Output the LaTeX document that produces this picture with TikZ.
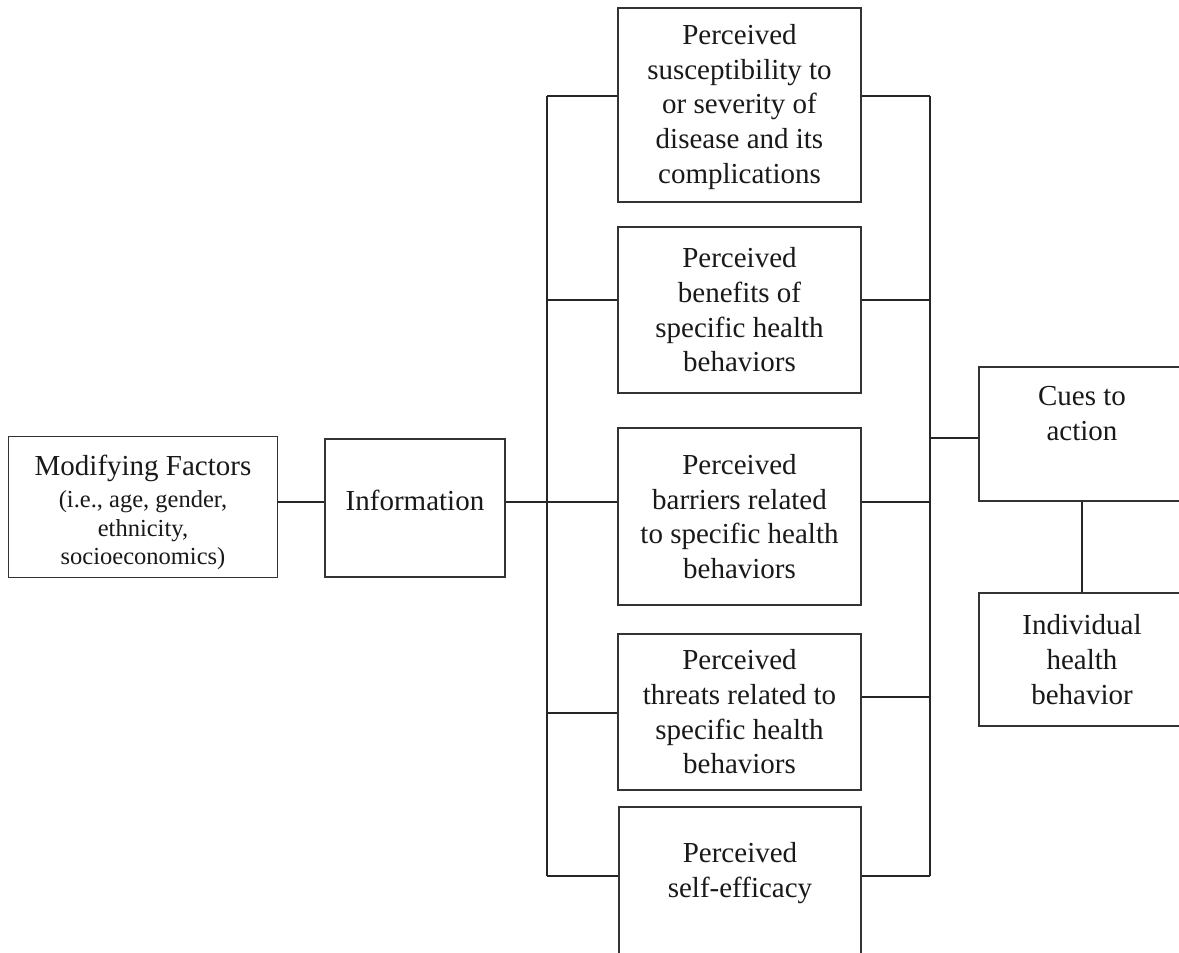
\documentclass[tikz,border=0pt]{standalone}
\usepackage{fontspec}
\setmainfont{Liberation Serif}
\newcommand{\smallfs}{\fontsize{24.5}{27.5}\selectfont}
\begin{document}
\begin{tikzpicture}[x=1pt,y=-1pt,
  box/.style={draw=black!80, line width=1.2pt, inner sep=0pt, align=center,
    font=\fontsize{29}{34.7}\selectfont, text=black!90},
  txt/.style={inner sep=0pt, align=center, font=\fontsize{29}{34.7}\selectfont, text=black!90},
  conn/.style={draw=black!85, line width=1.8pt}]
\clip (0,0) rectangle (1179,953);
\fill[white] (0,0) rectangle (1179,953);
% left side
\node[box, minimum width=269pt, minimum height=141pt] (mod) at (143,507) {};
\node[txt, anchor=north] (modt) at (143,455)
  {Modifying Factors\\[-3pt]\smallfs (i.e., age, gender,\\[-6pt]\smallfs ethnicity,\\[-6pt]\smallfs socioeconomics)};
\node[box, minimum width=180pt, minimum height=138pt] (info) at (415,508) {};
\node[txt] (infot) at (415,500) {Information};
% middle column
\node[box, minimum width=243pt, minimum height=194pt] (b1) at (739.5,105) {};
\node[txt] (b1t) at (739.5,107)
  {Perceived\\susceptibility to\\or severity of\\disease and its\\complications};
\node[box, minimum width=243pt, minimum height=166pt] (b2) at (739.5,310)
  {Perceived\\benefits of\\specific health\\behaviors};
\node[box, minimum width=243pt, minimum height=177pt] (b3) at (739.5,516.5)
  {Perceived\\barriers related\\to specific health\\behaviors};
\node[box, minimum width=243pt, minimum height=156pt] (b4) at (739.5,712)
  {Perceived\\threats related to\\specific health\\behaviors};
\node[box, minimum width=242pt, minimum height=160pt] (b5) at (740,887) {};
\node[txt, anchor=north] (b5t) at (740,842) {Perceived\\self-efficacy};
% right column
\node[box, minimum width=206pt, minimum height=134pt] (cues) at (1082,434) {};
\node[txt, anchor=north] (cuest) at (1082,386) {Cues to\\action};
\node[box, minimum width=206pt, minimum height=133pt] (ind) at (1082,659.5)
  {Individual\\health\\behavior};
% bus coordinates
\coordinate (L1) at (547,96);
\coordinate (L2) at (547,300);
\coordinate (L3) at (547,502);
\coordinate (L4) at (547,713);
\coordinate (L5) at (547,876);
\coordinate (R1) at (930,96);
\coordinate (R2) at (930,300);
\coordinate (R3) at (930,502);
\coordinate (R4) at (930,697);
\coordinate (R5) at (930,876);
\coordinate (RC) at (930,438);
% connectors
\draw[conn] (mod.east |- L3) -- (info.west |- L3);
\draw[conn] (info.east |- L3) -- (L3);
\draw[conn] (L1) -- (L5);
\draw[conn] (R1) -- (R5);
\draw[conn] (L1) -- (b1.west |- L1);
\draw[conn] (L2) -- (b2.west |- L2);
\draw[conn] (L3) -- (b3.west |- L3);
\draw[conn] (L4) -- (b4.west |- L4);
\draw[conn] (L5) -- (b5.west |- L5);
\draw[conn] (b1.east |- R1) -- (R1);
\draw[conn] (b2.east |- R2) -- (R2);
\draw[conn] (b3.east |- R3) -- (R3);
\draw[conn] (b4.east |- R4) -- (R4);
\draw[conn] (b5.east |- R5) -- (R5);
\draw[conn] (RC) -- (cues.west |- RC);
\draw[conn] (cues.south) -- (ind.north);
\end{tikzpicture}
\end{document}
